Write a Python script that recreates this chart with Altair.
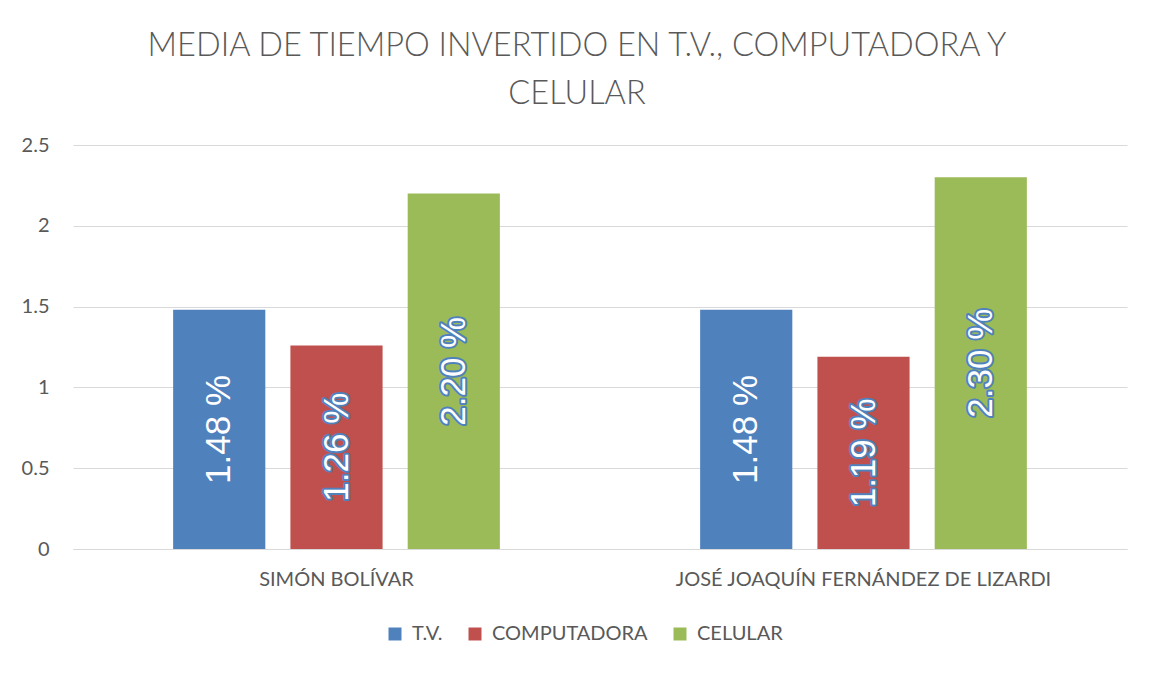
import altair as alt
import pandas as pd

schools = ["SIMÓN BOLÍVAR", "JOSÉ JOAQUÍN FERNÁNDEZ DE LIZARDI"]
series = ["T.V.", "COMPUTADORA", "CELULAR"]
tv = [1.48, 1.48]
computadora = [1.26, 1.19]
celular = [2.20, 2.30]
colors = ["#4F81BD", "#C0504D", "#9BBB59"]
y_ticks = [0, 0.5, 1, 1.5, 2, 2.5]

rows = []
for i, s in enumerate(schools):
    for name, vals in zip(series, [tv, computadora, celular]):
        rows.append({"escuela": s, "serie": name, "valor": vals[i]})
df = pd.DataFrame(rows)

FONT = "Lato"
GRAY = "#595959"

x = alt.X("escuela:N", sort=schools, title=None,
          scale=alt.Scale(paddingInner=0.38, paddingOuter=0.19),
          axis=alt.Axis(labelAngle=0, ticks=False, domainColor="#D9D9D9",
                        labelFont=FONT, labelFontSize=20, labelColor=GRAY,
                        labelPadding=20, grid=False, labelLimit=0))
xo = alt.XOffset("serie:N", sort=series, scale=alt.Scale(paddingInner=0.214, paddingOuter=0))
y = alt.Y("valor:Q", title=None,
          scale=alt.Scale(domain=[0, 2.5], nice=False),
          axis=alt.Axis(values=y_ticks, labelExpr="datum.value + ''", ticks=False,
                        domain=False, gridColor="#D9D9D9", gridWidth=1,
                        labelFont=FONT, labelFontSize=20, labelColor=GRAY,
                        labelPadding=24))

base = alt.Chart(df)

bars = base.mark_bar().encode(
    x=x, xOffset=xo, y=y,
    color=alt.Color("serie:N", sort=series,
                    scale=alt.Scale(domain=series, range=colors),
                    legend=alt.Legend(title=None, orient="none", direction="horizontal",
                                      legendX=312, legendY=479, symbolType="square",
                                      symbolSize=169, symbolStrokeWidth=0,
                                      labelFont=FONT, labelFontSize=20, labelColor=GRAY,
                                      columnPadding=22, labelOffset=7)),
)

txt_base = base.transform_calculate(
    mid="datum.valor / 2",
    etiqueta="format(datum.valor, '.2f') + ' %'",
)

tx = alt.X("escuela:N", sort=schools)
txo = alt.XOffset("serie:N", sort=series)
ty = alt.Y("mid:Q")

glow = txt_base.mark_text(angle=270, align="center", baseline="middle",
                          font="Liberation Sans", fontSize=35,
                          stroke="#4F81BD", strokeWidth=4, fill="#4F81BD",
                          strokeJoin="round").encode(
    x=tx, xOffset=txo, y=ty, text="etiqueta:N")

labels = txt_base.mark_text(angle=270, align="center", baseline="middle",
                            font="Liberation Sans", fontSize=35,
                            fill="white").encode(
    x=tx, xOffset=txo, y=ty, text="etiqueta:N")

chart = alt.layer(bars, glow, labels).properties(
    width=1054, height=404,
    background="white",
    autosize=alt.AutoSizeParams(type="none"),
    padding={"left": 65, "top": 137, "right": 19, "bottom": 116},
    title=alt.TitleParams(
        ["MEDIA DE TIEMPO INVERTIDO EN T.V., COMPUTADORA Y", "CELULAR"],
        font=FONT, fontSize=32.5, fontWeight=300, color=GRAY,
        anchor="middle", dx=-23, offset=25, lineHeight=48),
).configure_view(stroke=None)

chart.save("out.html", embed_options={"renderer": "svg", "actions": False})
